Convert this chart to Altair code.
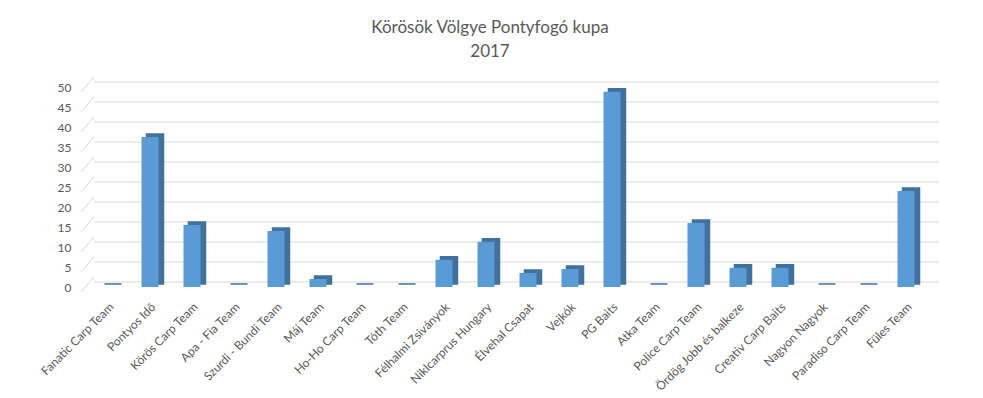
import altair as alt
import pandas as pd

teams = [
    "Fanatic Carp Team", "Pontyos Idő", "Körös Carp Team", "Apa - Fia Team",
    "Szurdi - Bundi Team", "Máj Team", "Ho-Ho Carp Team", "Tóth Team",
    "Félhalmi Zsiványok", "Niklcarprus Hungary", "Élvehal Csapat", "Vejkók",
    "PG Baits", "Atka Team", "Police Carp Team", "Ördög Jobb és balkeze",
    "Creativ Carp Baits", "Nagyon Nagyok", "Paradiso Carp Team", "Füles Team",
]
points = [0, 37.5, 15.5, 0, 14, 2, 0, 0, 6.8, 11.3, 3.5, 4.5,
          48.8, 0, 16, 4.8, 4.8, 0, 0, 24]
ticks = list(range(0, 55, 5))

df = pd.DataFrame({"team": teams, "points": points})
tick_df = pd.DataFrame({"v": ticks})

FONT = "Lato"
GRAY = "#595959"
GRID = "#d9d9d9"

yscale = alt.Scale(domain=[0, 50], nice=False, zero=True)
yaxis = alt.Axis(values=ticks, grid=False, domain=False, ticks=False,
                 labelPadding=16, labelFont=FONT, labelFontSize=12,
                 labelColor=GRAY, title=None)
xaxis = alt.Axis(labelAngle=-45, labelFont=FONT, labelFontSize=12,
                 labelColor=GRAY, domain=False, ticks=False, labelPadding=14,
                 title=None, labelOverlap=False, labelLimit=0)
xenc = alt.X("team:N", sort=teams,
             scale=alt.Scale(paddingInner=0, paddingOuter=0), axis=xaxis)
yenc = alt.Y("points:Q", scale=yscale, axis=yaxis)

grid = alt.Chart(tick_df).mark_rule(color=GRID, strokeWidth=1, yOffset=-5).encode(
    y=alt.Y("v:Q", scale=yscale, axis=yaxis),
    x=alt.value(7), x2=alt.value(852),
)
stub = alt.Chart(tick_df).transform_calculate(v2="datum.v + 2.5").mark_rule(
    color=GRID, strokeWidth=1, yOffset=5).encode(
    y=alt.Y("v:Q", scale=yscale, axis=yaxis),
    y2="v2:Q",
    x=alt.value(-6), x2=alt.value(7),
)
side = alt.Chart(df).mark_bar(size=17, color="#41719c", stroke="#41719c",
                              strokeWidth=1.5, xOffset=5, yOffset=-3).encode(
    x=xenc, y=yenc)
front = alt.Chart(df).mark_bar(size=17, color="#5b9bd5").encode(x=xenc, y=yenc)

chart = alt.layer(grid, stub, side, front).properties(
    width=840, height=200,
    background="white",
    autosize=alt.AutoSizeParams(type="none"),
    padding={"left": 79, "top": 79, "right": 40, "bottom": 108},
    title=alt.TitleParams(["Körösök Völgye Pontyfogó kupa", "2017"], font=FONT,
                          fontSize=17, fontWeight="normal", color=GRAY,
                          lineHeight=24, anchor="middle", dx=-17, offset=16),
).configure_view(stroke=None)

chart.save("out.html", embed_options={"renderer": "svg", "actions": False})
